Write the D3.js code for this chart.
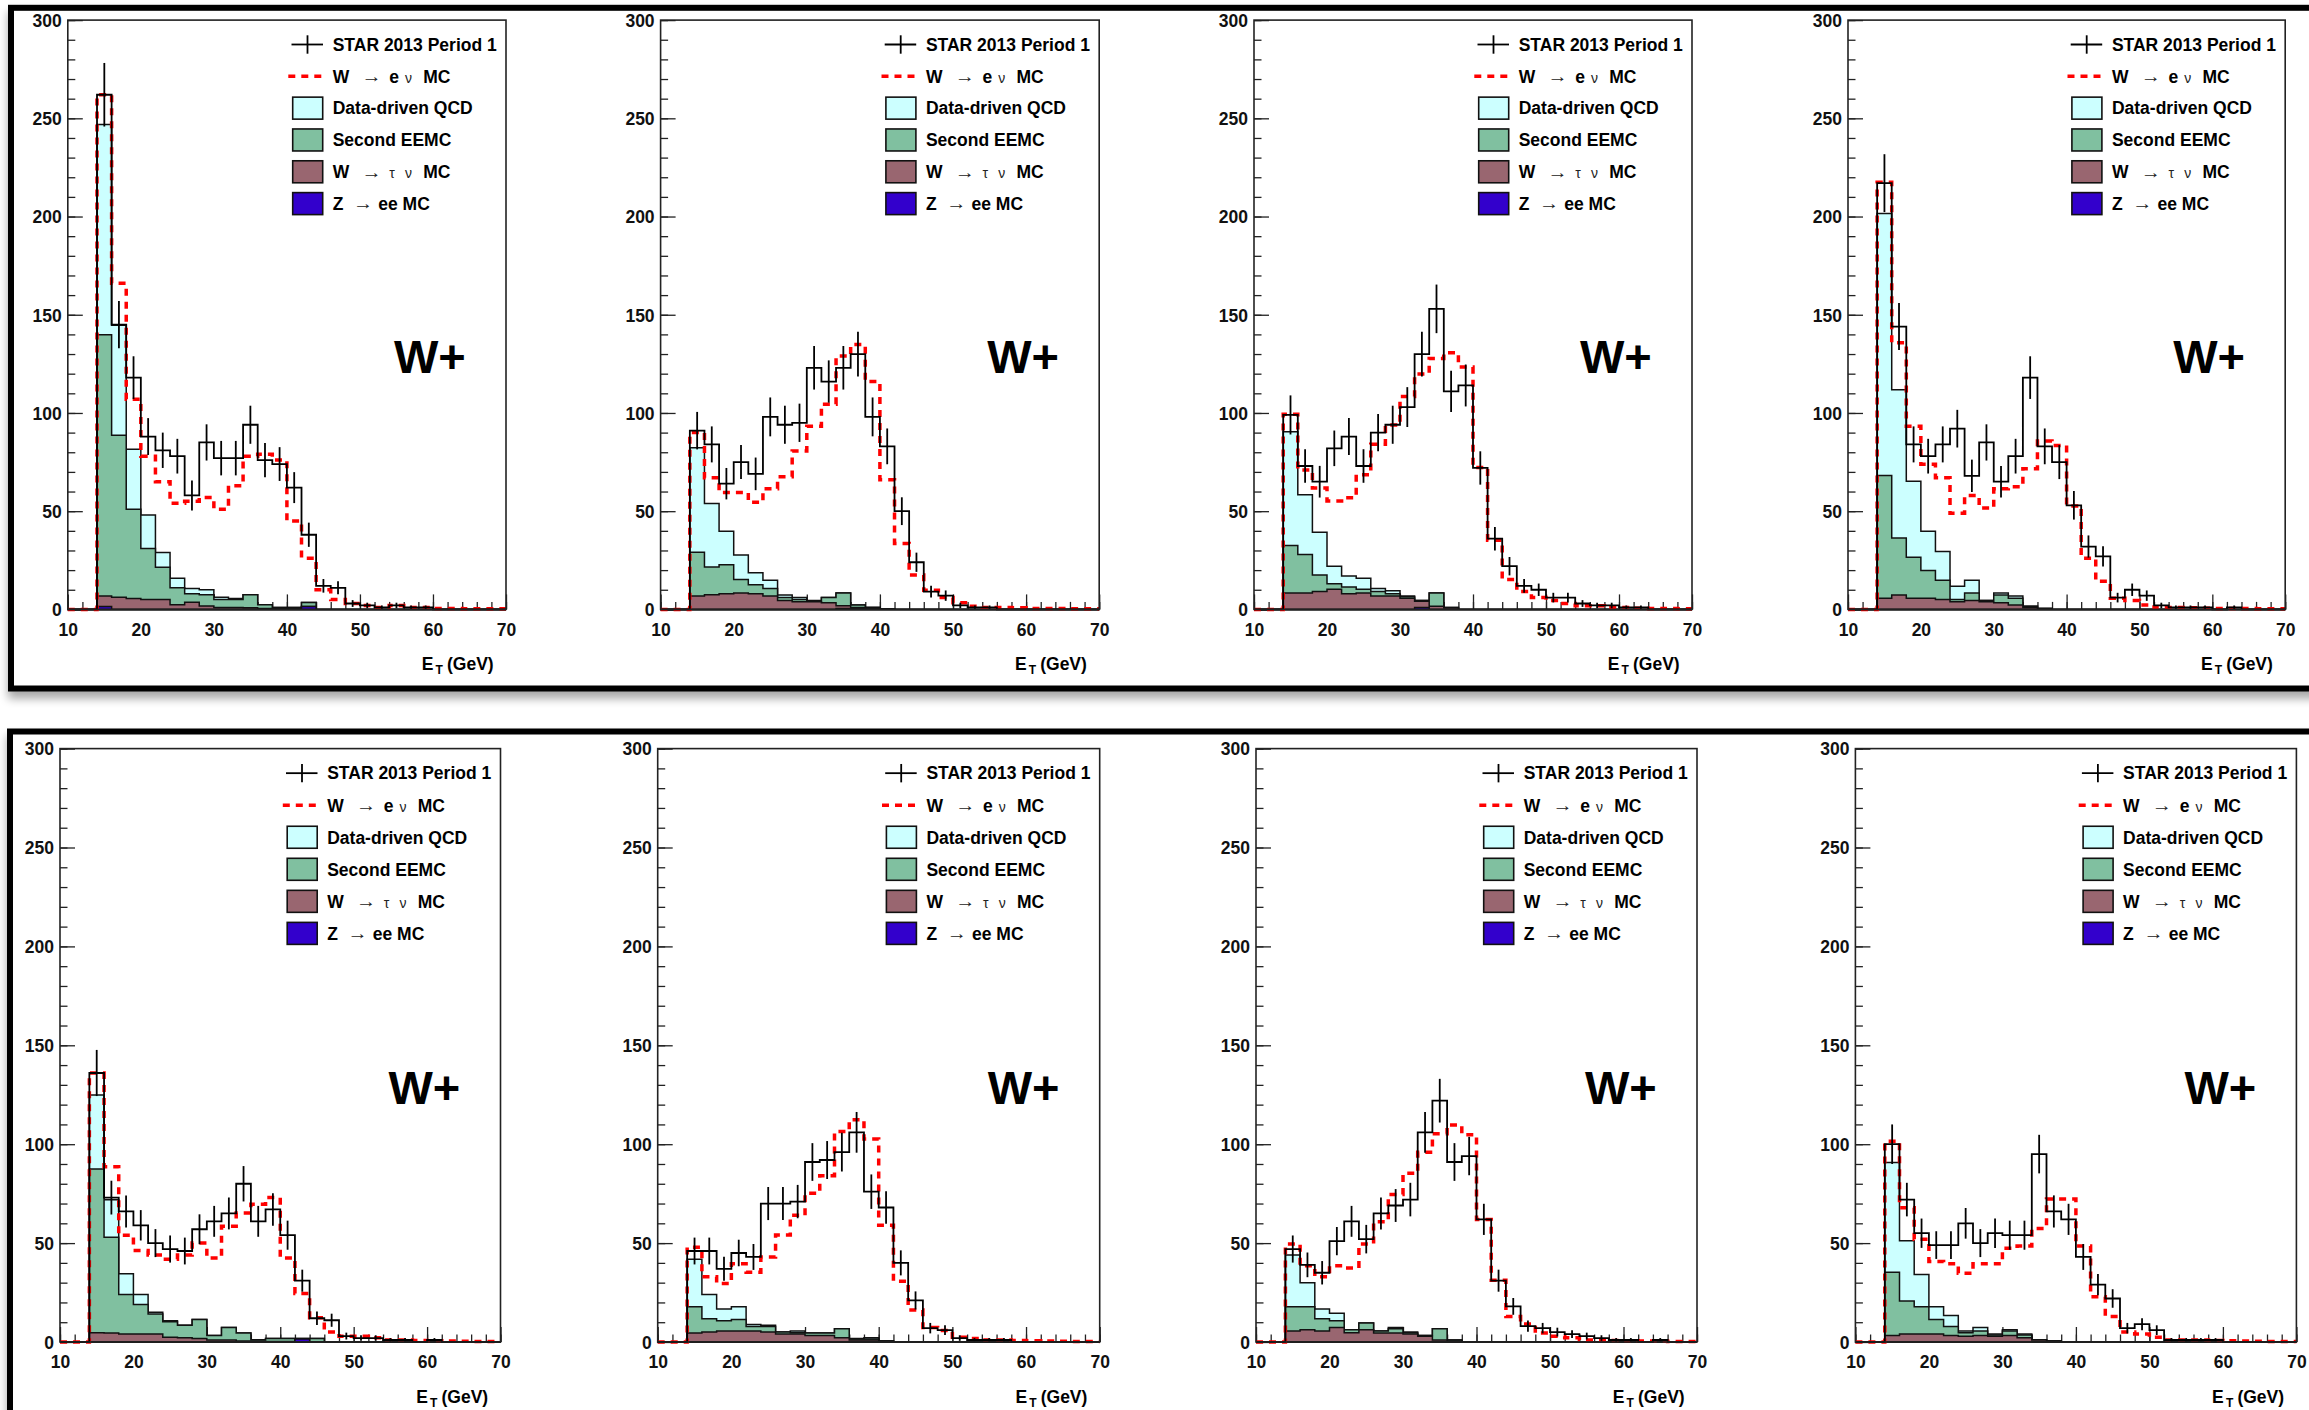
<!DOCTYPE html>
<html><head><meta charset="utf-8">
<script src="https://cdn.jsdelivr.net/npm/d3@7"></script>
<style>
body{margin:0;background:#fff;}
svg{display:block;}
text{font-family:"Liberation Sans",Arial,Helvetica,sans-serif;}
</style>
</head><body>
<svg id="c" width="2309" height="1410"></svg>
<script>
// ---------------- DATA ----------------
const binLow = [10,12,14,16,18,20,22,24,26,28,30,32,34,36,38,40,42,44,46,48,50,52,54,56,58,60,62,64,66,68];
const binWidth = 2;
const xTicks = [10,20,30,40,50,60,70];
const yTicks = [0,50,100,150,200,250,300];
const legendLabels = ["STAR 2013 Period 1","W → e ν MC","Data-driven QCD","Second EEMC","W → τ ν MC","Z → ee MC"];
const panelTag = "W+";
const axisTitle = ["E","T"," (GeV)"];

// Panel 1 (top row, 1st)
const data1 = [0,0,262,145,118,88,81,78,58,85,77,77,94,76,74,62,38,12,11,3,2,1,2,1,1,0,0,0,0,0];
const wenu1 = [0,0,262,166,107,78,65,54,55,57,51,63,78,79,76,45,26,10,5,3,2,1,2,1,1,0.5,0.5,0.3,0.3,0.3];
const qcd1  = [0,0,107,56,30.5,17,7.6,4.8,2.7,2.6,1.2,0.5,0,0,0,0,0,0,0,0,0,0,0,0,0,0,0,0,0,0];
const eemc1 = [0,0,133,82.4,45.5,25.9,16.3,8.6,4.4,5.7,4,4,6.7,1.9,0.7,0.7,2,0,0,0,0,0,0,0,0,0,0,0,0,0];
const wtau1 = [0,0,5.3,6.2,5.5,5.1,5.1,2.4,3.6,1.7,1,1,0.8,0.5,0.3,0.3,0,0,0,0,0,0,0,0,0,0,0,0,0,0];
const zee1  = [0,0,1.5,0,0,0,0,0,0,0,0,0,0,0,0,0,1.5,0,0,0,0,0,0,0,0,0,0,0,0,0];
// Panel 2
const data2 = [0,0,91,84,64,75,69,98,94,95,123,116,123,130,98,83,50,24,9,7,2,1,1,0,0,0,0,0,0,0];
const wenu2 = [0,0,90,67,59.5,59.5,54.5,61.4,67.5,80.7,93.2,104.5,129,134.8,116,66,33.6,17.5,9.8,6.1,3.4,1.6,1,1,0.8,0.5,0.5,0.5,0.3,0.3];
const qcd2  = [0,0,53.2,32.3,17.1,12.5,6.1,4.1,1.2,1.1,0.4,0,0,0,0,0,0,0,0,0,0,0,0,0,0,0,0,0,0,0];
const eemc2 = [0,0,22.3,14.1,14.7,6.8,4.5,3.9,1.6,1.1,0.2,2.7,6.6,1.3,0,0,0,0,0,0,0,0,0,0,0,0,0,0,0,0];
const wtau2 = [0,0,6.8,7.5,8,8.4,8,6.8,4.5,3.9,3.9,3.4,1.3,0.5,0.5,0.3,0,0,0,0,0,0,0,0,0,0,0,0,0,0];
const zee2  = [0,0,0,0,0,0,0,0,0,0,0,0,0.5,0.5,0.5,0,0,0,0,0,0,0,0,0,0,0,0,0,0,0];
// Panel 3
const data3 = [0,0,99,73,65,82,88,73,90,94,103,130,153,111,114,72,36,22,12,10,6,6,3,2,2,1,1,0,0,0];
const wenu3 = [0,0,99.3,71,61.8,55.2,56.8,68.6,84.1,93.9,108.4,119.8,127.7,130.7,123.4,72.3,35.2,15.2,9.1,6.1,4.5,3,1.8,1.8,1,1,0.6,0.5,0.4,0.3];
const qcd3  = [0,0,58,30.4,21.8,9,5.6,5.7,1.6,1.5,0.4,0,0,0,0,0,0,0,0,0,0,0,0,0,0,0,0,0,0,0];
const eemc3 = [0,0,24.1,19.6,8.4,2.8,3.4,1.8,2.3,1.2,0.7,0.4,6.8,0.2,0,0,0,0,0,0,0,0,0,0,0,0,0,0,0,0];
const wtau3 = [0,0,8.4,8.4,9.1,10.2,8,8.4,6.8,6.8,5.7,3.1,1.6,0.8,0,0,0,0,0,0,0,0,0,0,0,0,0,0,0,0];
const zee3  = [0,0,0,0,0,0,0,0,0,0,0,1,0,0,0,0,0,0,0,0,0,0,0,0,0,0,0,0,0,0];
// Panel 4
const data4 = [0,0,217,144,84,78,84,92,68,85,65,78,118,83,75,53,32,27,6,10,7,2,1,1,1,0,1,0,0,0];
const wenu4 = [0,0,217.5,135.7,93.2,73.9,67,48.9,58,51.6,61.4,62.5,71.6,85.7,83.4,52.7,26.1,14.3,5.7,4.5,2.3,1,1,0.8,0.6,0.5,0.5,0.4,0.3,0.3];
const qcd4  = [0,0,133.4,75.4,38.6,20,14.7,6.8,6.4,0,1.1,1.1,0,0,0,0,0,0,0,0,0,0,0,0,0,0,0,0,0,0];
const eemc4 = [0,0,62.5,29.1,20.9,14.1,9.8,1.1,3.9,0.6,3.9,3.4,0.6,0,0,0,0,0,0,0,0,0,0,0,0,0,0,0,0,0];
const wtau4 = [0,0,5.7,7.3,5.7,5.7,5,3.9,4.5,3.9,3.4,2.3,1,0.5,0,0,0,0,0,0,0,0,0,0,0,0,0,0,0,0];
const zee4  = [0,0,0,0,0,0,0,0,0,0,0,0,0,0,0,0,0,0,0,0,0,0,0,0,0,0,0,0,0,0];
// Panel 5 (bottom row, 1st)
const data5 = [0,0,136,73,66,59,50,47,46,57,61,65,80,61,67,54,31,12,11,3,2,2,1,1,0,1,0,0,0,0];
const wenu5 = [0,0,136,88.6,54,46.3,44,41.8,44,50,42.5,58.5,65.2,69.7,73,42.5,24.5,12.2,5.1,2.9,2.9,2.2,1,1,0.8,0.6,0.5,0.4,0.3,0.3];
const qcd5  = [0,0,37.4,18.9,10.5,5,1,0.5,0,0,0,0,0,0,0,0,0,0,0,0,0,0,0,0,0,0,0,0,0,0];
const eemc5 = [0,0,82.8,48.5,20,15,10.1,7.8,6.3,9.6,2.3,6.3,4,0.6,1.5,1.5,0.3,1.8,0,0,0,0,0,0,0,0,0,0,0,0];
const wtau5 = [0,0,4.7,4.5,4,4,4,2.4,2.2,1.8,1,1,0.5,0.5,0.3,0.3,0,0,0,0,0,0,0,0,0,0,0,0,0,0];
const zee5  = [0,0,0,0,0,0,0,0,0,0,0,0,0,0,0,0,1.5,0,0,0,0,0,0,0,0,0,0,0,0,0];
// Panel 6
const data6 = [0,0,46,46,37,45,43,70,70,71,91,92,96,106,76,68,40,21,7,6,2,1,1,1,0,0,0,0,0,0];
const wenu6 = [0,0,47.9,33,29.6,39.6,35.2,43,54.1,64.1,75.2,84.1,106.4,112.4,102.6,59,30.7,16.2,7.3,5.8,2.4,1.8,1,1,0.8,0.6,0.5,0.4,0.3,0.3];
const qcd6  = [0,0,24,12.2,6,6.4,1.1,0.7,0,0.9,0,0,0,0.3,0.7,0,0,0,0,0,0,0,0,0,0,0,0,0,0,0];
const eemc6 = [0,0,13.3,6.7,5.1,5.8,2.2,2.7,1.1,0.7,1.2,1.2,4.5,0.5,0.5,0,0,0,0,0,0,0,0,0,0,0,0,0,0,0];
const wtau6 = [0,0,4.5,5.1,5.6,5.6,5.6,5.1,4,4,3.3,3.3,2.2,1,1,0.5,0,0,0,0,0,0,0,0,0,0,0,0,0,0];
const zee6  = [0,0,0,0,0,0,0,0,0,0,0,0,0,0,0,0,0,0,0,0,0,0,0,0,0,0,0,0,0,0];
// Panel 7
const data7 = [0,0,47,39,35,51,61,52,65,69,72,106,122,91,94,62,31,18,8,7,5,4,3,2,1,1,0,1,0,0];
const wenu7 = [0,0,49.6,38.5,33,38.5,37.4,49.6,60.8,74.6,85.3,95.9,105.3,109.7,104.8,61.9,31.2,12.9,9.1,4.5,2.9,2.2,1,1,0.8,0.6,0.5,0.4,0.3,0.3];
const qcd7  = [0,0,26.2,12.2,4.9,3.8,0,0,0,0.6,0.4,0,0,0,0,0,0,0,0,0,0,0,0,0,0,0,0,0,0,0];
const eemc7 = [0,0,12.2,11.6,6.2,3.4,1.5,3.4,1.1,2.2,0.7,0.4,5.7,0.5,0,0,0,0,0,0,0,0,0,0,0,0,0,0,0,0];
const wtau7 = [0,0,5.6,6.2,5.6,7.3,4.7,6.2,4.5,4.5,4,2.9,1,0.5,0,0,0,0,0,0,0,0,0,0,0,0,0,0,0,0];
const zee7  = [0,0,0,0,0,0,0,0,0,0,0,0,0,0,0,0,0,0,0,0,0,0,0,0,0,0,0,0,0,0];
// Panel 8
const data8 = [0,0,100,72,55,49,49,60,50,55,54,54,95,66,62,43,29,22,7,9,6,1,1,1,1,0,0,0,0,0];
const wenu8 = [0,0,101.5,67.9,51.9,40.7,39.6,34.7,39.6,39.6,47.4,48.5,57.4,72.3,72.3,48.5,22.9,12.9,5.1,4,2.4,1,1,1,0.8,0.6,0.5,0.4,0.3,0.3];
const qcd8  = [0,0,55.6,30.5,16.3,6.4,5.6,0.9,1.7,0.4,0.6,0.4,0,0,0,0,0,0,0,0,0,0,0,0,0,0,0,0,0,0];
const eemc8 = [0,0,31.9,16.7,13.8,7.4,4.5,1.8,2.3,0.7,2.3,1.4,0,0,0,0,0,0,0,0,0,0,0,0,0,0,0,0,0,0];
const wtau8 = [0,0,3.3,4,4,4,3.3,2.9,3.3,2.9,3.3,2.2,1,0.5,0,0,0,0,0,0,0,0,0,0,0,0,0,0,0,0];
const zee8  = [0,0,0,0,0,0,0,0,0,0,0,0,0,0,0,0,0,0,0,0,0,0,0,0,0,0,0,0,0,0];

// ---------------- LAYOUT ----------------
const panels = [
  {data:data1,wenu:wenu1,qcd:qcd1,eemc:eemc1,wtau:wtau1,zee:zee1, box:[67.8,20.1,438.2,589.3]},
  {data:data2,wenu:wenu2,qcd:qcd2,eemc:eemc2,wtau:wtau2,zee:zee2, box:[660.6,20.1,438.6,589.3]},
  {data:data3,wenu:wenu3,qcd:qcd3,eemc:eemc3,wtau:wtau3,zee:zee3, box:[1254,20.1,438,589.3]},
  {data:data4,wenu:wenu4,qcd:qcd4,eemc:eemc4,wtau:wtau4,zee:zee4, box:[1848,20.1,437.2,589.3]},
  {data:data5,wenu:wenu5,qcd:qcd5,eemc:eemc5,wtau:wtau5,zee:zee5, box:[60,748.6,440.5,593.4]},
  {data:data6,wenu:wenu6,qcd:qcd6,eemc:eemc6,wtau:wtau6,zee:zee6, box:[657.7,748.6,442,593.4]},
  {data:data7,wenu:wenu7,qcd:qcd7,eemc:eemc7,wtau:wtau7,zee:zee7, box:[1256,748.6,441,593.4]},
  {data:data8,wenu:wenu8,qcd:qcd8,eemc:eemc8,wtau:wtau8,zee:zee8, box:[1855.4,748.6,441,593.4]}
];
const stackKeys = ["zee","wtau","eemc","qcd"];
const fills = {qcd:"#ccffff", eemc:"#80c0a0", wtau:"#996670", zee:"#3300cc"};
const FONT = "17.5px";

const svg = d3.select("#c");
const defs = svg.append("defs");
const flt = defs.append("filter").attr("id","sh").attr("x","-2%").attr("y","-5%").attr("width","104%").attr("height","112%");
flt.append("feGaussianBlur").attr("in","SourceAlpha").attr("stdDeviation",5).attr("result","bl");
flt.append("feOffset").attr("in","bl").attr("dx",0).attr("dy",7).attr("result","of");
flt.append("feComponentTransfer").attr("in","of").attr("result","sf").append("feFuncA").attr("type","linear").attr("slope",0.35);
const mg = flt.append("feMerge"); mg.append("feMergeNode").attr("in","sf"); mg.append("feMergeNode").attr("in","SourceGraphic");

svg.append("rect").attr("x",0).attr("y",0).attr("width",2309).attr("height",1410).attr("fill","#fff");
// window frames
svg.append("rect").attr("x",11).attr("y",7.8).attr("width",2320).attr("height",680.7)
  .attr("fill","#fff").attr("stroke","#000").attr("stroke-width",6).attr("filter","url(#sh)");
svg.append("rect").attr("x",10).attr("y",731.5).attr("width",2320).attr("height",800)
  .attr("fill","#fff").attr("stroke","#000").attr("stroke-width",6).attr("filter","url(#sh)");

function stepPoints(vals){
  const pts=[];
  binLow.forEach((b,i)=>{ pts.push([b,vals[i]]); pts.push([b+binWidth,vals[i]]); });
  return pts;
}

function drawPanel(P){
  const [L,T,W,H] = P.box;
  const R = L+W, B = T+H;
  const g = svg.append("g");
  const x = d3.scaleLinear().domain([10,70]).range([L,R]);
  const y = d3.scaleLinear().domain([0,300]).range([B,T]);

  const axStyle = sel => { sel.select(".domain").remove(); sel.selectAll("line").attr("stroke","#222").attr("stroke-width",1.3); };
  // ticks (inside, drawn below histograms)
  g.append("g").attr("transform",`translate(${L},0)`)
    .call(d3.axisRight(y).tickValues(d3.range(0,301,10)).tickSize(7.5).tickFormat("")).call(axStyle);
  g.append("g").attr("transform",`translate(${L},0)`)
    .call(d3.axisRight(y).tickValues(yTicks).tickSize(15).tickFormat("")).call(axStyle);
  g.append("g").attr("transform",`translate(0,${B})`)
    .call(d3.axisTop(x).tickValues(d3.range(10,71,2)).tickSize(7.5).tickFormat("")).call(axStyle);
  g.append("g").attr("transform",`translate(0,${B})`)
    .call(d3.axisTop(x).tickValues(xTicks).tickSize(15).tickFormat("")).call(axStyle);
  // labels
  const yl = g.append("g").attr("transform",`translate(${L},0)`)
    .call(d3.axisLeft(y).tickValues(yTicks).tickSize(0).tickPadding(6));
  yl.select(".domain").remove();
  yl.selectAll("text").attr("font-size",FONT).attr("font-weight","bold").attr("fill","#111")
    .attr("font-family","Liberation Sans, Arial, sans-serif").attr("dy","0.36em");
  const xl = g.append("g").attr("transform",`translate(0,${B})`)
    .call(d3.axisBottom(x).tickValues(xTicks).tickSize(0).tickPadding(14));
  xl.select(".domain").remove();
  xl.selectAll("text").attr("font-size",FONT).attr("font-weight","bold").attr("fill","#111")
    .attr("font-family","Liberation Sans, Arial, sans-serif");

  // stack
  const rows = binLow.map((b,i)=>({zee:P.zee[i],wtau:P.wtau[i],eemc:P.eemc[i],qcd:P.qcd[i]}));
  const series = d3.stack().keys(stackKeys)(rows);
  const area = d3.area().x(d=>x(d[0])).y0(y(0)).y1(d=>y(d[1]));
  for(let k=series.length-1;k>=0;k--){
    const tops = series[k].map(d=>d[1]);
    g.append("path").attr("d",area(stepPoints(tops)))
      .attr("fill",fills[series[k].key]).attr("stroke","#111").attr("stroke-width",1.5)
      .attr("stroke-linejoin","miter");
  }
  const line = d3.line().x(d=>x(d[0])).y(d=>y(d[1]));
  // W->e nu MC (red dashed)
  g.append("path").attr("d",line(stepPoints(P.wenu))).attr("fill","none")
    .attr("stroke","#ff0000").attr("stroke-width",3.5).attr("stroke-dasharray","7,6");
  // data
  g.append("path").attr("d",line(stepPoints(P.data))).attr("fill","none")
    .attr("stroke","#000").attr("stroke-width",1.8);
  g.append("g").selectAll("line").data(binLow.map((b,i)=>[b+binWidth/2,P.data[i]]).filter(d=>d[1]>0))
    .join("line")
    .attr("x1",d=>x(d[0])).attr("x2",d=>x(d[0]))
    .attr("y1",d=>y(d[1]+Math.sqrt(d[1]))).attr("y2",d=>y(Math.max(0,d[1]-Math.sqrt(d[1]))))
    .attr("stroke","#000").attr("stroke-width",1.8);

  // frame
  g.append("rect").attr("x",L).attr("y",T).attr("width",W).attr("height",H)
    .attr("fill","none").attr("stroke","#222").attr("stroke-width",1.6);

  // legend
  const sp = H*0.054, off = H*0.0414;
  const tx = R-173.3;
  const bold = s => s.attr("font-size",FONT).attr("font-weight","bold").attr("fill","#000");
  legendLabels.forEach((lab,i)=>{
    const cy = T+off+i*sp;
    if(i===0){
      g.append("line").attr("x1",R-214.5).attr("x2",R-183).attr("y1",cy).attr("y2",cy).attr("stroke","#000").attr("stroke-width",1.8);
      g.append("line").attr("x1",R-198.5).attr("x2",R-198.5).attr("y1",cy-9.2).attr("y2",cy+9.2).attr("stroke","#000").attr("stroke-width",1.8);
    } else if(i===1){
      g.append("line").attr("x1",R-217.7).attr("x2",R-184.3).attr("y1",cy).attr("y2",cy)
        .attr("stroke","#ff0000").attr("stroke-width",3.5).attr("stroke-dasharray","7,6");
    } else {
      g.append("rect").attr("x",R-213.3).attr("y",cy-11).attr("width",30).attr("height",22)
        .attr("fill",fills[stackKeys[5-i]]).attr("stroke","#111").attr("stroke-width",1.6);
    }
    const bl = cy+6.3;
    const parts = lab.split(" ");
    if(lab.indexOf("→")<0){
      bold(g.append("text").attr("x",tx).attr("y",bl).text(lab));
    } else {
      let pieces;
      if(parts[0]==="Z") pieces=[["Z",0,"b"],["→",20.6,"a"],["ee MC",45.6,"b"]];
      else pieces=[["W",0,"b"],["→",29,"a"],[parts[2],56.6,parts[2]==="e"?"b":"g"],["ν",72.3,"g"],["MC",90.6,"b"]];
      pieces.forEach(([s,dx,st])=>{
        const t = g.append("text").attr("x",tx+dx).attr("y",bl).text(s);
        if(st==="b") bold(t);
        else if(st==="a") t.attr("font-family","DejaVu Sans, sans-serif").attr("font-size","17px").attr("fill","#222")
          .attr("textLength",20).attr("lengthAdjust","spacingAndGlyphs").attr("y",bl-0.5);
        else t.attr("font-family","DejaVu Sans, sans-serif").attr("font-size","14px").attr("fill","#222");
      });
    }
  });

  // W+ tag
  g.append("text").attr("x",R-112).attr("y",y(120.5)).text(panelTag)
    .attr("font-size","47px").attr("font-weight","bold").attr("fill","#000");

  // axis title
  bold(g.append("text").attr("x",R-84.3).attr("y",B+60.5).text(axisTitle[0]));
  g.append("text").attr("x",R-70.5).attr("y",B+64.5).text(axisTitle[1]).attr("font-size","12px").attr("font-weight","bold");
  bold(g.append("text").attr("x",R-59).attr("y",B+60.5).text(axisTitle[2]));
}

panels.forEach(drawPanel);
</script>
</body></html>
